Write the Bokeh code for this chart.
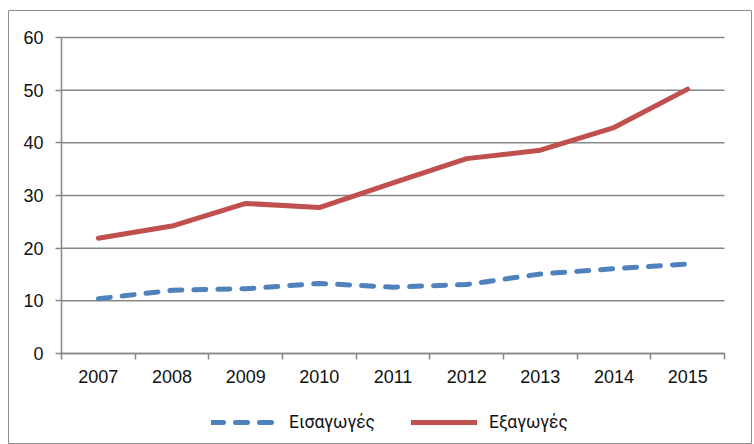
from bokeh.plotting import figure
from bokeh.models import Range1d, FixedTicker, Legend, LegendItem, ColumnDataSource
from bokeh.embed import file_html
from bokeh.resources import INLINE

years = ["2007", "2008", "2009", "2010", "2011", "2012", "2013", "2014", "2015"]
imports = [10.4, 12.0, 12.3, 13.3, 12.6, 13.1, 15.1, 16.1, 17.0]
exports = [21.9, 24.2, 28.5, 27.7, 32.4, 37.0, 38.6, 42.9, 50.2]
y_ticks = [0, 10, 20, 30, 40, 50, 60]
label_imports = "Εισαγωγές"
label_exports = "Εξαγωγές"

n = len(years)
ymax = y_ticks[-1]
xpos = [i + 0.5 for i in range(n)]
src = ColumnDataSource(dict(x=xpos, imp=imports, exp=exports))

GRAY = "#878787"
FONT = "Liberation Sans"

# layout (pixels): outer chart box 8..751 x 10..444, plot area 61..724 x 37..353
W, H = 754, 444
box_l, box_r, box_t, box_b = 8, 751, 10, 444
pa_l, pa_r, pa_t, pa_b = 61, 724, 37, 353
xu = (pa_r - pa_l) / n
yu = (pa_b - pa_t) / ymax
x_range = Range1d(-(pa_l - box_l) / xu, n + (box_r - pa_r) / xu)
y_range = Range1d(-(box_b - pa_b) / yu, ymax + (pa_t - box_t) / yu)

p = figure(width=W, height=H, output_backend="svg", toolbar_location=None,
           x_range=x_range, y_range=y_range,
           min_border_left=box_l, min_border_right=W - box_r,
           min_border_top=box_t, min_border_bottom=H - box_b)
p.outline_line_color = "#8c8c8c"
p.outline_line_width = 1
p.background_fill_color = "white"
p.border_fill_color = "white"

p.xgrid.grid_line_color = None
p.ygrid.grid_line_color = None

# horizontal gridlines across the plot area
p.segment(x0=[0] * len(y_ticks), x1=[n] * len(y_ticks), y0=y_ticks, y1=y_ticks,
          line_color=GRAY, line_width=1.5)

r_imp = p.line("x", "imp", source=src, line_color="#4F81BD", line_width=5,
               line_dash="12 12", line_cap="round")
r_exp = p.line("x", "exp", source=src, line_color="#C0504D", line_width=5,
               line_cap="round", line_join="round")

# x axis at y = 0
xa = p.xaxis[0]
xa.fixed_location = 0
xa.bounds = (0, n)
xa.ticker = FixedTicker(ticks=xpos, minor_ticks=list(range(n + 1)))
xa.major_label_overrides = {x: y for x, y in zip(xpos, years)}
xa.major_tick_line_color = None
xa.minor_tick_line_color = GRAY
xa.minor_tick_line_width = 1.5
xa.minor_tick_out = 6
xa.minor_tick_in = 0
xa.axis_line_color = GRAY
xa.axis_line_width = 1.5
xa.major_label_text_font = FONT
xa.major_label_text_font_size = "18px"
xa.major_label_text_color = "#111111"
xa.major_label_standoff = 10

# y axis at x = 0
ya = p.yaxis[0]
ya.fixed_location = 0
ya.bounds = (0, ymax)
ya.ticker = FixedTicker(ticks=y_ticks)
ya.minor_tick_line_color = None
ya.major_tick_line_color = GRAY
ya.major_tick_line_width = 1.5
ya.major_tick_out = 6
ya.major_tick_in = 0
ya.axis_line_color = GRAY
ya.axis_line_width = 1.5
ya.major_label_text_font = FONT
ya.major_label_text_font_size = "18px"
ya.major_label_text_color = "#111111"
ya.major_label_standoff = 12

legend = Legend(items=[LegendItem(label=label_imports, renderers=[r_imp]),
                       LegendItem(label=label_exports, renderers=[r_exp])],
                orientation="horizontal", location=(203, 12),
                glyph_width=66, glyph_height=20, label_standoff=12, spacing=36,
                padding=0, margin=0, border_line_color=None, background_fill_alpha=0,
                label_text_font="Roboto", label_text_font_size="17.5px", label_text_color="#111111")
p.add_layout(legend, "center")

open("out.html", "w").write(file_html(p, INLINE))
